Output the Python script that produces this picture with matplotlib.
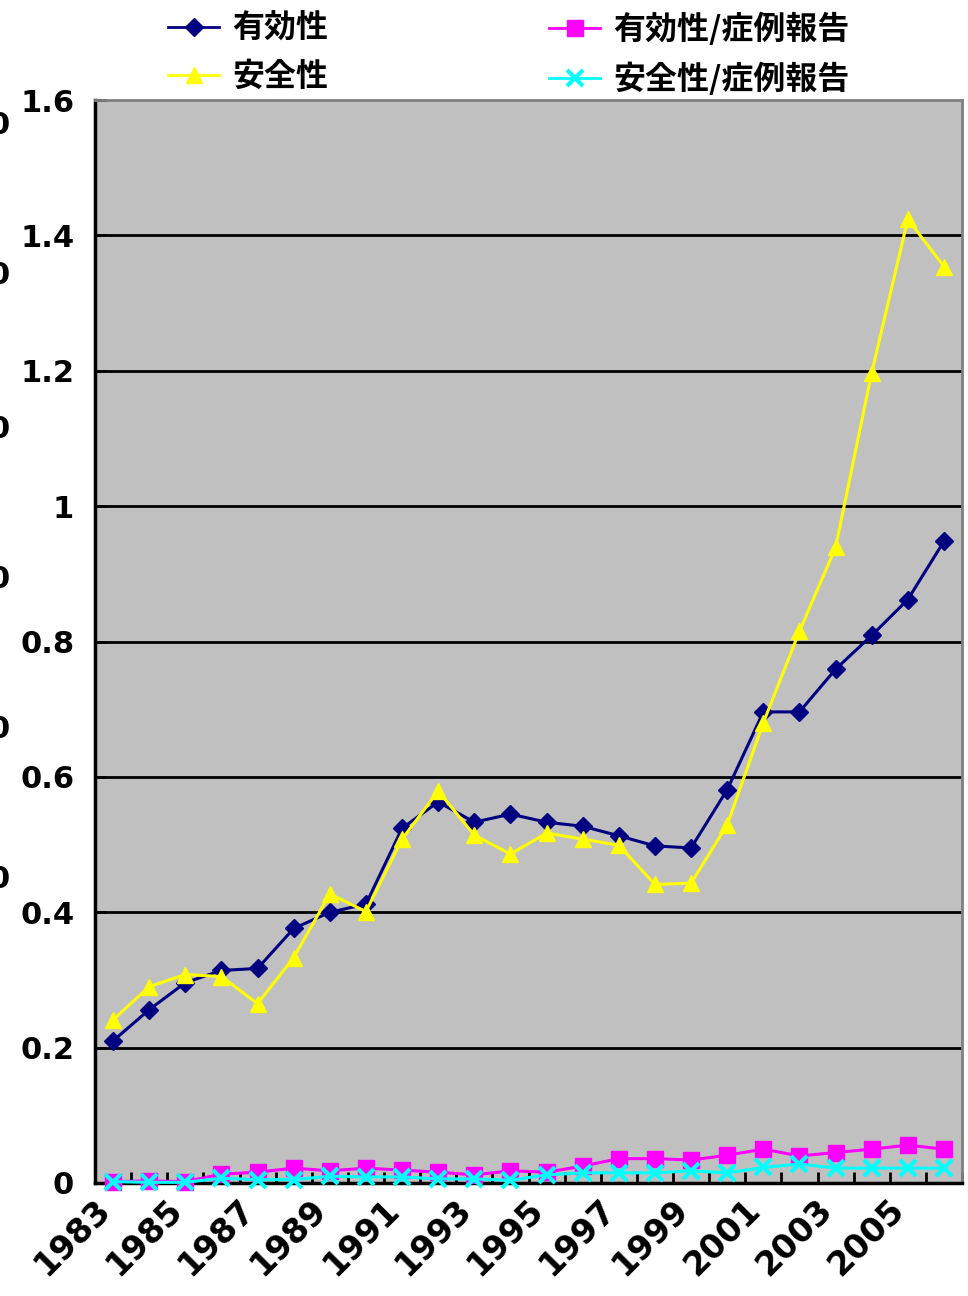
import numpy as np
import matplotlib.pyplot as plt
from matplotlib.lines import Line2D

plt.rcParams['font.family'] = ['DejaVu Sans']

years = list(range(1983, 2007))
efficacy = [0.210, 0.256, 0.296, 0.314, 0.317, 0.376, 0.400, 0.412, 0.524, 0.563,
            0.533, 0.545, 0.533, 0.527, 0.513, 0.498, 0.495, 0.581, 0.696, 0.696,
            0.759, 0.809, 0.862, 0.948]
safety = [0.241, 0.290, 0.308, 0.305, 0.265, 0.333, 0.427, 0.401, 0.508, 0.579,
          0.514, 0.486, 0.517, 0.508, 0.499, 0.441, 0.443, 0.529, 0.680, 0.815,
          0.939, 1.197, 1.424, 1.354]
efficacy_case = [0.002, 0.003, 0.002, 0.013, 0.016, 0.022, 0.018, 0.022, 0.019, 0.016,
                 0.012, 0.018, 0.016, 0.025, 0.036, 0.036, 0.034, 0.041, 0.050, 0.040,
                 0.045, 0.050, 0.056, 0.050]
safety_case = [0.002, 0.001, 0.001, 0.007, 0.005, 0.005, 0.010, 0.009, 0.009, 0.006,
               0.006, 0.004, 0.012, 0.015, 0.015, 0.015, 0.018, 0.015, 0.023, 0.028,
               0.022, 0.022, 0.022, 0.022]
labels = ['有効性', '安全性', '有効性/症例報告', '安全性/症例報告']
yticks = [0, 0.2, 0.4, 0.6, 0.8, 1, 1.2, 1.4, 1.6]

fig = plt.figure(figsize=(9.68, 12.96), dpi=100)
ax = fig.add_axes([95/968, 113/1296, 867/968, 1083/1296])
ax.set_facecolor('#C0C0C0')

x = np.arange(len(years))
series = [
    (efficacy, '#000080', 'D', 9),
    (safety, '#FFFF00', '^', 12),
    (efficacy_case, '#FF00FF', 's', 11),
    (safety_case, '#00FFFF', 'x', 11),
]
handles = []
for (vals, col, mk, ms), lab in zip(series, labels):
    mew = 3 if mk == 'x' else 1
    ax.plot(x, vals, color=col, lw=2.2, marker=mk, ms=ms, mec=col, mfc=col,
            mew=mew, clip_on=False, zorder=3)
    handles.append(Line2D([], [], color=col, lw=2, marker=mk, ms=ms,
                          mec=col, mfc=col, mew=mew))

ax.set_xlim(-0.5, len(years) - 0.5)
ax.set_ylim(0, 1.6)
ax.set_yticks(yticks)
ax.set_yticklabels([f'{v:g}' for v in yticks], fontsize=22, fontweight='bold')
for v in yticks[1:-1]:
    ax.axhline(v, color='black', lw=2, zorder=1)

# category boundaries as ticks, labels every other year
ax.set_xticks(np.arange(-0.5, len(years), 1.0))
ax.set_xticklabels([])
ax.tick_params(axis='x', direction='in', length=8, width=2)
ax.tick_params(axis='y', direction='in', length=8, width=2, pad=15)
for i, yr in enumerate(years):
    if yr % 2 == 1:
        ax.text(i - 0.55, -0.015, str(yr), rotation=45, ha='right', va='top',
                fontsize=24, fontweight='bold', rotation_mode='anchor')

ax.spines['left'].set_linewidth(2.5)
ax.spines['bottom'].set_linewidth(2.5)
ax.spines['top'].set_color('#808080')
ax.spines['right'].set_color('#808080')
ax.spines['top'].set_linewidth(2)
ax.spines['right'].set_linewidth(2)

legend_font = {'family': ['Noto Sans CJK JP', 'DejaVu Sans'],
               'weight': 'bold', 'size': 23}
legend_kw = dict(loc='upper left', frameon=False, prop=legend_font,
                 handlelength=1.6, handletextpad=0.4, labelspacing=0.5,
                 borderpad=0, borderaxespad=0)
leg1 = fig.legend(handles[:2], labels[:2], bbox_to_anchor=(168/968, 1 - 13/1296),
                  **legend_kw)
leg2 = fig.legend(handles[2:], labels[2:], bbox_to_anchor=(549/968, 1 - 13/1296),
                  **legend_kw)

# clipped labels of a second axis at the left edge
for ypix in [125, 275, 430, 580, 730, 880]:
    fig.text(-0.012, 1 - ypix/1296, '0', fontsize=22, fontweight='bold',
             ha='left', va='center')

fig.savefig('out.png', dpi=100)
